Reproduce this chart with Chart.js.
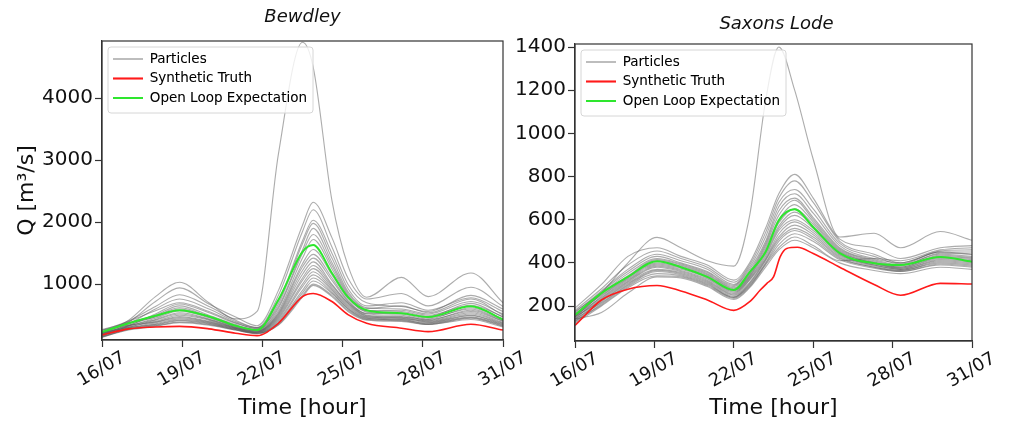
<!DOCTYPE html>
<html>
<head>
<meta charset="utf-8">
<script src="https://cdn.jsdelivr.net/npm/chart.js@4.4.1/dist/chart.umd.min.js"></script>
<style>
  html, body { margin: 0; padding: 0; background: #fff; }
  #wrap { position: relative; width: 1009px; height: 423px; }
  canvas { position: absolute; left: 0; top: 0; }
</style>
</head>
<body>
<div id="wrap">
  <canvas id="bewdley" width="1009" height="423"></canvas>
  <canvas id="saxons" width="1009" height="423"></canvas>
</div>
<script>
Chart.defaults.font.family = "'DejaVu Sans', sans-serif";
Chart.defaults.color = '#111';

// x axis: days after 16/07
const dayTicks = [0, 3, 6, 9, 12, 15];
const dayLabels = ['16/07', '19/07', '22/07', '25/07', '28/07', '31/07'];
const seriesNames = ['Particles', 'Synthetic Truth', 'Open Loop Expectation'];

// ---- Bewdley ----
const bewdleyDays = [0, 1, 2, 2.9, 4, 5, 5.8, 6.6, 7.5, 7.9, 8.6, 9.2, 9.9, 11.2, 12.2, 13.8, 15];
const bewdleyTruth = [180, 280, 310, 320, 280, 210, 170, 370, 800, 850, 720, 510, 370, 290, 235, 355, 260];
const bewdleyOpenLoop = [230, 370, 490, 580, 480, 330, 260, 750, 1520, 1630, 1180, 790, 580, 530, 470, 645, 430];
const bewdleyParticles = [
  [210, 420, 800, 1030, 700, 440, 560, 3100, 4900, 4500, 2350, 1300, 790, 1110, 800, 1180, 700],
  [200, 390, 720, 940, 680, 470, 330, 900, 1950, 2320, 1750, 1100, 760, 850, 650, 950, 640],
  [250, 410, 640, 830, 640, 420, 300, 820, 1850, 2200, 1600, 1000, 700, 640, 560, 820, 600],
  [180, 360, 600, 760, 600, 400, 300, 720, 1700, 2030, 1500, 930, 650, 700, 580, 780, 560],
  [230, 400, 570, 700, 560, 380, 280, 680, 1650, 1980, 1420, 880, 620, 600, 520, 720, 520],
  [160, 330, 520, 680, 540, 370, 290, 640, 1550, 1900, 1350, 850, 610, 650, 540, 760, 500],
  [270, 380, 500, 650, 500, 350, 260, 610, 1500, 1800, 1300, 820, 580, 560, 480, 690, 470],
  [190, 340, 480, 620, 480, 330, 270, 570, 1420, 1720, 1250, 800, 570, 580, 500, 660, 480],
  [220, 370, 470, 600, 470, 320, 250, 540, 1330, 1560, 1150, 770, 550, 520, 440, 620, 440],
  [170, 320, 450, 570, 460, 310, 250, 520, 1280, 1480, 1100, 740, 530, 540, 460, 600, 420],
  [210, 330, 430, 540, 440, 300, 240, 500, 1220, 1420, 1060, 720, 520, 500, 420, 580, 410],
  [150, 300, 420, 520, 430, 300, 240, 480, 1160, 1360, 1000, 700, 500, 480, 430, 560, 400],
  [200, 310, 400, 500, 420, 290, 230, 460, 1100, 1300, 980, 690, 490, 470, 410, 540, 380],
  [260, 340, 390, 480, 400, 290, 230, 440, 1060, 1250, 950, 670, 480, 450, 400, 520, 370],
  [180, 290, 380, 460, 390, 280, 220, 420, 1000, 1200, 920, 650, 470, 460, 390, 500, 360],
  [140, 280, 360, 440, 380, 280, 220, 400, 960, 1150, 900, 630, 460, 440, 380, 490, 350],
  [220, 300, 350, 420, 370, 270, 210, 380, 900, 1100, 870, 610, 450, 420, 370, 470, 340],
  [160, 270, 340, 410, 360, 270, 210, 370, 860, 1050, 850, 600, 440, 430, 360, 460, 330],
  [200, 280, 330, 390, 350, 260, 200, 350, 820, 1000, 820, 580, 430, 410, 350, 450, 320],
  [150, 260, 320, 380, 340, 260, 210, 340, 790, 980, 800, 560, 420, 400, 350, 430, 310]
];
const bewdleyYTicks = [1000, 2000, 3000, 4000];

// ---- Saxons Lode ----
const saxonsDays = [0, 1, 2, 3.1, 4, 5, 6, 6.6, 7.2, 7.7, 8.3, 9, 10, 11.3, 12.3, 13.8, 15];
const saxonsTruthDays = [0, 1, 2, 3.1, 4, 5, 6, 6.6, 7.0, 7.25, 7.5, 7.75, 8.0, 8.4, 9, 10, 11.3, 12.3, 13.8, 15];
const saxonsTruth = [110, 228, 278, 295, 270, 228, 180, 220, 274, 305, 335, 428, 467, 472, 443, 380, 300, 250, 305, 302];
const saxonsOpenLoop = [158, 260, 335, 408, 380, 335, 274, 357, 450, 597, 648, 565, 445, 398, 390, 427, 405];
const saxonsParticles = [
  [150, 260, 400, 518, 470, 410, 385, 620, 1150, 1400, 1200, 880, 520, 537, 470, 545, 505],
  [190, 300, 430, 470, 430, 390, 320, 400, 560, 720, 810, 700, 510, 470, 420, 470, 480],
  [180, 280, 390, 455, 420, 380, 310, 390, 540, 700, 780, 680, 500, 440, 400, 450, 440],
  [170, 270, 370, 440, 410, 370, 300, 380, 520, 680, 740, 650, 490, 430, 395, 455, 460],
  [160, 265, 360, 430, 400, 360, 295, 370, 500, 660, 720, 630, 480, 420, 400, 450, 450],
  [175, 260, 350, 420, 395, 355, 290, 360, 490, 640, 700, 610, 470, 415, 390, 440, 430],
  [150, 255, 340, 415, 390, 350, 285, 350, 480, 620, 690, 600, 465, 410, 385, 445, 440],
  [165, 250, 335, 410, 385, 345, 280, 345, 470, 600, 670, 590, 460, 405, 380, 435, 425],
  [140, 245, 330, 400, 380, 340, 275, 340, 460, 585, 650, 580, 455, 400, 380, 430, 420],
  [155, 240, 325, 395, 375, 335, 270, 335, 450, 570, 635, 570, 450, 400, 375, 425, 415],
  [145, 235, 320, 390, 370, 330, 265, 330, 440, 560, 620, 560, 445, 395, 375, 420, 410],
  [135, 230, 315, 385, 365, 325, 260, 325, 430, 550, 600, 550, 440, 390, 370, 415, 405],
  [150, 225, 310, 380, 360, 320, 255, 320, 420, 535, 590, 540, 435, 390, 370, 410, 400],
  [130, 220, 305, 370, 355, 315, 250, 310, 415, 520, 575, 530, 430, 385, 365, 405, 395],
  [140, 215, 300, 365, 350, 310, 245, 305, 410, 510, 560, 520, 425, 380, 365, 400, 390],
  [125, 210, 295, 360, 345, 305, 240, 300, 400, 500, 550, 510, 420, 380, 360, 395, 385],
  [130, 205, 290, 350, 340, 300, 240, 295, 395, 485, 535, 500, 415, 375, 360, 390, 380],
  [120, 200, 285, 340, 335, 295, 235, 290, 390, 470, 520, 480, 410, 420, 410, 460, 470],
  [140, 170, 260, 335, 330, 290, 230, 285, 380, 460, 505, 470, 400, 365, 350, 380, 370]
];
const saxonsYTicks = [200, 400, 600, 800, 1000, 1200, 1400];

const PARTICLE_COLOR = 'rgba(90,90,90,0.5)';
const TRUTH_COLOR = '#ff1a1a';
const OPEN_LOOP_COLOR = '#2ee62e';

function toPoints(days, values) {
  return values.map((v, i) => ({x: days[i], y: v}));
}

function buildDatasets(cfg) {
  const sets = cfg.particles.map(p => ({
    label: seriesNames[0],
    data: toPoints(cfg.days, p),
    borderColor: PARTICLE_COLOR,
    borderWidth: 1.1,
    order: 2
  }));
  sets.push({label: seriesNames[1], data: toPoints(cfg.truthDays, cfg.truth), borderColor: TRUTH_COLOR, borderWidth: 1.6, order: 1});
  sets.push({label: seriesNames[2], data: toPoints(cfg.days, cfg.openLoop), borderColor: OPEN_LOOP_COLOR, borderWidth: 2, order: 0});
  return sets;
}

// legend sits inside the plot; place it and draw it again over the lines with a frame
const legendOnTop = {
  id: 'legendOnTop',
  afterLayout(chart) {
    chart.legend.left = chart.chartArea.left + 5;
    chart.legend.top = chart.chartArea.top + 5.25;
  },
  afterDatasetsDraw(chart) {
    const ctx = chart.ctx;
    const a = chart.chartArea;
    ctx.save();
    ctx.strokeStyle = '#333';
    ctx.lineWidth = 1.2;
    ctx.strokeRect(a.left, a.top, a.right - a.left, a.bottom - a.top);
    const boxes = chart.legend.legendHitBoxes;
    if (boxes && boxes.length) {
      const last = boxes[boxes.length - 1];
      const l = boxes[0].left - 5, t = boxes[0].top - 5.25;
      const r = Math.max(...boxes.map(b => b.left + b.width)) + 6;
      const b = last.top + last.height + 8.25;
      ctx.beginPath();
      ctx.roundRect(l, t, r - l, b - t, 3);
      ctx.fillStyle = 'rgba(255,255,255,0.8)';
      ctx.fill();
      ctx.strokeStyle = '#d6d6d6';
      ctx.lineWidth = 1;
      ctx.stroke();
    }
    ctx.restore();
    chart.legend.draw();
  }
};

const stationTitle = {
  id: 'stationTitle',
  afterDraw(chart, args, opts) {
    const ctx = chart.ctx;
    const a = chart.chartArea;
    ctx.save();
    ctx.font = "italic 18px 'DejaVu Sans'";
    ctx.fillStyle = '#111';
    ctx.textAlign = 'center';
    ctx.textBaseline = 'middle';
    ctx.fillText(opts.text, (a.left + a.right) / 2 + opts.dx, opts.y);
    ctx.restore();
  }
};

function makeChart(id, cfg) {
  return new Chart(document.getElementById(id), {
    type: 'line',
    data: {datasets: buildDatasets(cfg)},
    options: {
      responsive: false,
      animation: false,
      devicePixelRatio: 1,
      layout: {padding: cfg.padding},
      elements: {
        point: {radius: 0},
        line: {cubicInterpolationMode: 'monotone', fill: false}
      },
      plugins: {
        tooltip: {enabled: false},
        stationTitle: {text: cfg.title, y: cfg.titleY, dx: cfg.titleDx},
        legend: {
          position: 'chartArea',
          align: 'start',
          labels: {
            boxWidth: 30,
            boxHeight: 2,
            padding: 6,
            color: '#1a1a1a',
            font: {size: 13.5},
            generateLabels: () => [
              {text: seriesNames[0], fillStyle: '#bdbdbd', strokeStyle: '#bdbdbd', lineWidth: 0, hidden: false, datasetIndex: 0},
              {text: seriesNames[1], fillStyle: TRUTH_COLOR, strokeStyle: TRUTH_COLOR, lineWidth: 0, hidden: false, datasetIndex: 1},
              {text: seriesNames[2], fillStyle: OPEN_LOOP_COLOR, strokeStyle: OPEN_LOOP_COLOR, lineWidth: 0, hidden: false, datasetIndex: 2}
            ]
          }
        }
      },
      scales: {
        x: {
          type: 'linear',
          min: 0,
          max: 15,
          afterBuildTicks: s => { s.ticks = dayTicks.map(v => ({value: v})); },
          afterFit: s => { s.height = cfg.xHeight; s.paddingLeft = 0; s.paddingRight = 0; },
          ticks: {
            callback: (v, i) => dayLabels[i],
            minRotation: 30,
            maxRotation: 30,
            labelOffset: 22,
            padding: 0,
            color: '#111',
            font: {size: 18}
          },
          grid: {drawOnChartArea: false, tickLength: 7, color: '#333', tickWidth: 1.2},
          border: {color: '#333', width: 1.2},
          title: {display: true, text: 'Time [hour]', color: '#111', font: {size: 22}, padding: {top: 0, bottom: 2}}
        },
        y: {
          min: cfg.yMin,
          max: cfg.yMax,
          afterBuildTicks: s => { s.ticks = cfg.yTicks.map(v => ({value: v})); },
          afterFit: s => { s.width = 100; s.paddingTop = 0; s.paddingBottom = 0; },
          ticks: {callback: v => String(v), padding: 2, color: '#111', font: {size: 20}},
          grid: {drawOnChartArea: false, tickLength: 7, color: '#333', tickWidth: 1.2},
          border: {color: '#333', width: 1.2},
          title: {display: cfg.yTitle, text: 'Q [m³/s]', color: '#111', font: {size: 22}, padding: {top: 12, bottom: 0}}
        }
      }
    },
    plugins: [legendOnTop, stationTitle]
  });
}

makeChart('bewdley', {
  days: bewdleyDays, particles: bewdleyParticles, truthDays: bewdleyDays, truth: bewdleyTruth, openLoop: bewdleyOpenLoop,
  yMin: 100, yMax: 4920, yTicks: bewdleyYTicks, yTitle: true,
  title: 'Bewdley', titleY: 17, titleDx: 0,
  padding: {left: 2, right: 506, top: 41, bottom: 0}, xHeight: 83
});

makeChart('saxons', {
  days: saxonsDays, particles: saxonsParticles, truthDays: saxonsTruthDays, truth: saxonsTruth, openLoop: saxonsOpenLoop,
  yMin: 38, yMax: 1414, yTicks: saxonsYTicks, yTitle: false,
  title: 'Saxons Lode', titleY: 24, titleDx: 3,
  padding: {left: 475, right: 37, top: 44, bottom: 0}, xHeight: 82
});
</script>
</body>
</html>
